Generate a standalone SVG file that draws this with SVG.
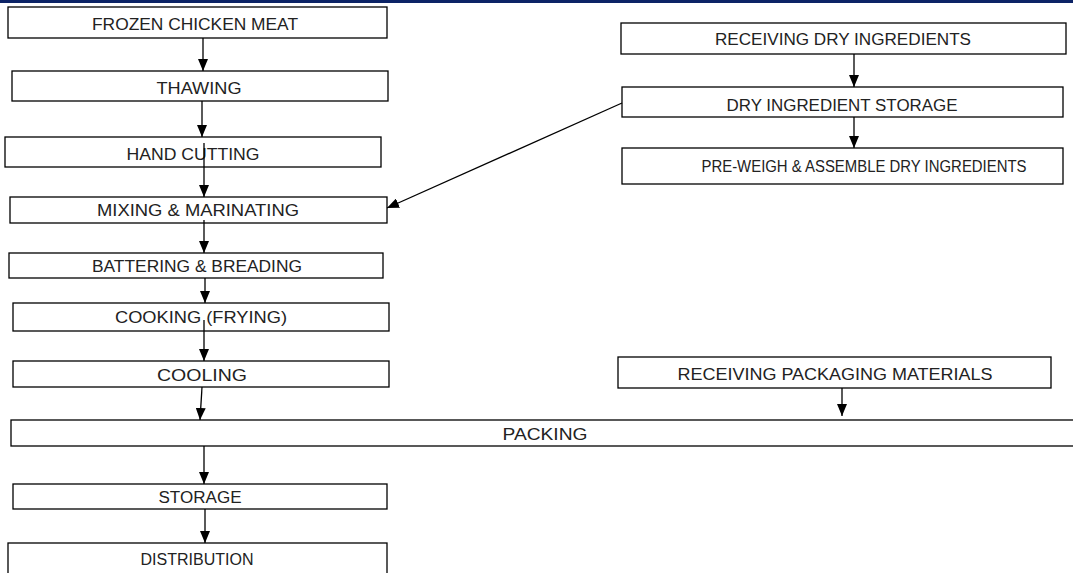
<svg xmlns="http://www.w3.org/2000/svg" width="1073" height="573" viewBox="0 0 1073 573">
<style>
.box{fill:#fff;stroke:#000;stroke-width:1.3}
.t{font-family:"Liberation Sans",Arial,sans-serif;font-size:16px;fill:#222;text-anchor:middle}
.c{stroke:#000;stroke-width:1.3;fill:none;marker-end:url(#ah)}
</style>
<defs>
<marker id="ah" viewBox="0 0 12 10" refX="12" refY="5" markerWidth="12" markerHeight="10" markerUnits="userSpaceOnUse" orient="auto">
<path d="M0,0 L12,5 L0,10 Z" fill="#000"/>
</marker>
</defs>
<rect x="0" y="0" width="1073" height="573" fill="#fff"/>
<rect x="0" y="0" width="1073" height="3" fill="#0c2366"/>
<g id="n-frozen"><rect class="box" x="8" y="7" width="379" height="31"/><text class="t" x="195" y="30" textLength="206" lengthAdjust="spacingAndGlyphs">FROZEN CHICKEN MEAT</text></g>
<g id="n-thawing"><rect class="box" x="12" y="71" width="376" height="30"/><text class="t" x="199" y="94" textLength="85" lengthAdjust="spacingAndGlyphs">THAWING</text></g>
<g id="n-cutting"><rect class="box" x="5" y="137" width="376" height="30"/><text class="t" x="193" y="160" textLength="133" lengthAdjust="spacingAndGlyphs">HAND CUTTING</text></g>
<g id="n-mixing"><rect class="box" x="10" y="197" width="377" height="26"/><text class="t" x="198" y="216" textLength="202" lengthAdjust="spacingAndGlyphs">MIXING &amp; MARINATING</text></g>
<g id="n-battering"><rect class="box" x="9" y="253" width="374" height="25"/><text class="t" x="197" y="272" textLength="210" lengthAdjust="spacingAndGlyphs">BATTERING &amp; BREADING</text></g>
<g id="n-cooking"><rect class="box" x="13" y="303" width="376" height="28"/><text class="t" x="201" y="323" textLength="172" lengthAdjust="spacingAndGlyphs">COOKING (FRYING)</text></g>
<g id="n-cooling"><rect class="box" x="13" y="361" width="376" height="26"/><text class="t" x="202" y="381" textLength="90" lengthAdjust="spacingAndGlyphs">COOLING</text></g>
<g id="n-packing"><rect class="box" x="11" y="420" width="1075" height="26"/><text class="t" x="545" y="440" textLength="85" lengthAdjust="spacingAndGlyphs">PACKING</text></g>
<g id="n-storage"><rect class="box" x="13" y="484" width="374" height="25"/><text class="t" x="200" y="503" textLength="83" lengthAdjust="spacingAndGlyphs">STORAGE</text></g>
<g id="n-distribution"><rect class="box" x="8" y="543" width="379" height="40"/><text class="t" x="197" y="565" textLength="113" lengthAdjust="spacingAndGlyphs">DISTRIBUTION</text></g>
<g id="n-recv-dry"><rect class="box" x="621" y="23" width="445" height="31"/><text class="t" x="843" y="45" textLength="256" lengthAdjust="spacingAndGlyphs">RECEIVING DRY INGREDIENTS</text></g>
<g id="n-dry-storage"><rect class="box" x="622" y="87" width="441" height="30"/><text class="t" x="842" y="111" textLength="231" lengthAdjust="spacingAndGlyphs">DRY INGREDIENT STORAGE</text></g>
<g id="n-preweigh"><rect class="box" x="622" y="148" width="441" height="36"/><text class="t" x="864" y="172" textLength="325" lengthAdjust="spacingAndGlyphs">PRE-WEIGH &amp; ASSEMBLE DRY INGREDIENTS</text></g>
<g id="n-recv-pack"><rect class="box" x="618" y="357" width="433" height="31"/><text class="t" x="835" y="380" textLength="315" lengthAdjust="spacingAndGlyphs">RECEIVING PACKAGING MATERIALS</text></g>
<g id="connectors">
<line class="c" x1="203" y1="38" x2="203" y2="71"/>
<line class="c" x1="202" y1="101" x2="202" y2="137"/>
<line class="c" x1="204" y1="143" x2="204" y2="197"/>
<line class="c" x1="204" y1="220" x2="204" y2="253"/>
<line class="c" x1="205" y1="278" x2="205" y2="303"/>
<line class="c" x1="204" y1="320" x2="204" y2="361"/>
<line class="c" x1="202" y1="387" x2="200" y2="420"/>
<line class="c" x1="204" y1="446" x2="204" y2="484"/>
<line class="c" x1="205" y1="509" x2="205" y2="543"/>
<line class="c" x1="854" y1="54" x2="854" y2="87"/>
<line class="c" x1="854" y1="117" x2="854" y2="148"/>
<line class="c" x1="842" y1="388" x2="842" y2="416"/>
<line class="c" x1="622" y1="103" x2="387" y2="208"/>
</g>
</svg>
